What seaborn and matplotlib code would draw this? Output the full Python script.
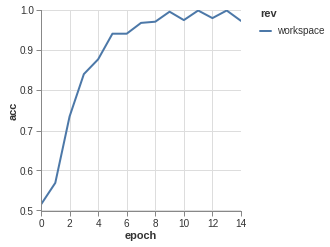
import matplotlib
matplotlib.use("Agg")
import matplotlib.pyplot as plt
import seaborn as sns
import pandas as pd
from matplotlib.lines import Line2D

epoch = list(range(15))
acc = [0.515, 0.569, 0.735, 0.841, 0.878, 0.942, 0.942, 0.969, 0.972, 0.997, 0.976, 1.0, 0.981, 1.0, 0.974]
rev = ["workspace"] * 15
xticks = [0, 2, 4, 6, 8, 10, 12, 14]
yticks = [0.5, 0.6, 0.7, 0.8, 0.9, 1.0]

df = pd.DataFrame({"epoch": epoch, "acc": acc, "rev": rev})

sns.set_style("white")
plt.rcParams["font.family"] = ["Liberation Sans", "DejaVu Sans"]

PX = 0.72  # points per pixel at dpi 100

fig = plt.figure(figsize=(3.30, 2.47), dpi=100)
ax = fig.add_axes([41/330, (247-210.5)/247, 200/330, 200/247])
sns.lineplot(data=df, x="epoch", y="acc", hue="rev", palette=["#4c78a8"], linewidth=2*PX, ax=ax, legend=False)
ax.set_xlim(0, 14)
ax.set_ylim(0.5, 1.0)
ax.set_xticks(xticks)
ax.set_yticks(yticks)
ax.set_yticklabels([f"{v:.1f}" for v in yticks])
ax.grid(True, color="#dddddd", linewidth=1*PX)
ax.set_axisbelow(True)
for s in ["top", "right"]:
    ax.spines[s].set_visible(False)
for s in ["left", "bottom"]:
    ax.spines[s].set_color("#888888")
    ax.spines[s].set_linewidth(1*PX)
ax.tick_params(axis="x", which="both", pad=3*PX)
ax.tick_params(axis="y", which="both", pad=2*PX)
ax.tick_params(axis="both", which="both", length=5*PX, width=1*PX, color="#888888", labelsize=10*PX,
               labelcolor="#333333", direction="out", left=True, bottom=True)
ax.set_xlabel("epoch", fontsize=11*PX, fontweight="bold", color="#333333", labelpad=2*PX)
ax.set_ylabel("acc", fontsize=11*PX, fontweight="bold", color="#333333", labelpad=1*PX)

handles = [Line2D([0], [0], color="#4c78a8", linewidth=2*PX)]
leg = fig.legend(handles, ["workspace"], title="rev", loc="upper left", bbox_to_anchor=(260/330, 1 - 9/247),
                 frameon=False, fontsize=10*PX, title_fontsize=11*PX, handlelength=1.1, handletextpad=0.6,
                 borderaxespad=0, borderpad=0, alignment="left", labelspacing=0.75)
leg.get_title().set_fontweight("bold")
leg.get_title().set_color("#333333")
for t in leg.get_texts():
    t.set_color("#333333")

fig.savefig("out.png", dpi=100)
